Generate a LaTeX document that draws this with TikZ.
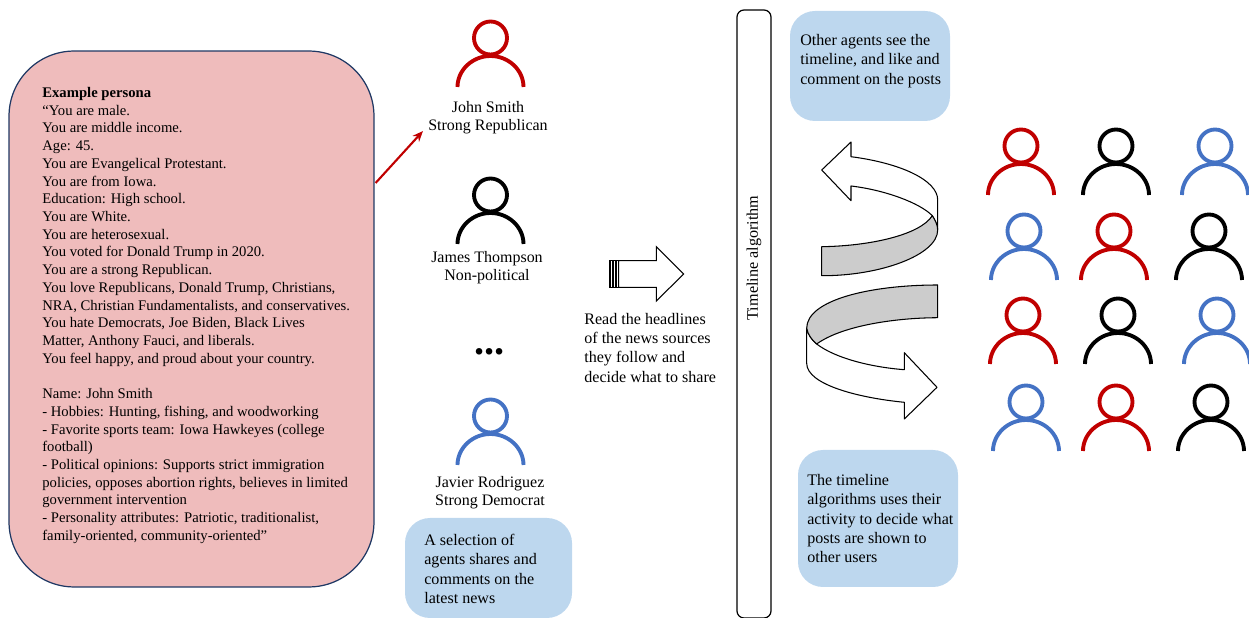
\documentclass[tikz,border=0pt]{standalone}
\usepackage{fontspec}
\setmainfont{Liberation Serif}
\usetikzlibrary{calc,arrows.meta}
\definecolor{agentred}{HTML}{C00000}
\definecolor{agentblue}{HTML}{4472C4}
\definecolor{personapink}{HTML}{EFBCBC}
\definecolor{personaline}{HTML}{1F3864}
\definecolor{noteblue}{HTML}{BDD7EE}
\tikzset{
	agentline/.style={line width=2.2pt},
	personabox/.style={draw=personaline, line width=0.7pt, fill=personapink, rounded corners=1.3cm, minimum width=7.3cm, minimum height=10.72cm},
	notebox/.style={fill=noteblue, rounded corners=0.5cm},
	plaintext/.style={inner sep=0pt, align=left, anchor=north west, font=\fontsize{9.15}{11}\selectfont},
	personatext/.style={plaintext, font=\fontsize{8.35}{10.08}\selectfont},
	agentname/.style={inner sep=0pt, align=center, font=\fontsize{9.1}{10.2}\selectfont},
	swirl/.style={draw=black, line width=0.6pt, line join=round}
}
\def\agent[#1](#2,#3){
	\draw[agentline, color=#1] (#2,#3) circle [radius=16.5];
	\draw[agentline, color=#1, shift={(#2,#3)}] (-33,49) .. controls (-33,32) and (-18,18) .. (0,18) .. controls (18,18) and (33,32) .. (33,49);
}

\begin{document}
\begin{tikzpicture}[x=0.02cm, y=-0.02cm]
			%%%%% START %%%%%
			\useasboundingbox (0,0) rectangle (1249,618);
			
			\node[personabox] (persona) at (191.5,319) {};
			\node[personatext] (personacopy) at (42,87) {\textbf{Example persona}\\
				“You are male.\\
				You are middle income.\\
				Age: 45.\\
				You are Evangelical Protestant.\\
				You are from Iowa.\\
				Education: High school.\\
				You are White.\\
				You are heterosexual.\\
				You voted for Donald Trump in 2020.\\
				You are a strong Republican.\\
				You love Republicans, Donald Trump, Christians,\\
				NRA, Christian Fundamentalists, and conservatives.\\
				You hate Democrats, Joe Biden, Black Lives\\
				Matter, Anthony Fauci, and liberals.\\
				You feel happy, and proud about your country.\\[10.08pt]
				Name: John Smith\\
				- Hobbies: Hunting, fishing, and woodworking\\
				- Favorite sports team: Iowa Hawkeyes (college\\
				football)\\
				- Political opinions: Supports strict immigration\\
				policies, opposes abortion rights, believes in limited\\
				government intervention\\
				- Personality attributes: Patriotic, traditionalist,\\
				family-oriented, community-oriented”};
			
			\agent[agentred](490.5,38)
			\node[agentname] (johnlabel) at (488,117.5) {John Smith\\Strong Republican};
			\agent[black](490.5,195)
			\node[agentname] (jameslabel) at (487,268) {James Thompson\\Non-political};
			\node[inner sep=0pt, font=\fontsize{23}{23}\selectfont\bfseries] (dots) at (489.5,352) {...};
			\agent[agentblue](490.5,416)
			\node[agentname] (javierlabel) at (490,493) {Javier Rodriguez\\Strong Democrat};
			
			\coordinate (arrowstart) at ($(persona.east)+(1,-136)$);
			\coordinate (arrowend) at ($(johnlabel.south west)+(-5,-3)$);
			\draw[-{Stealth[length=6pt,width=5pt]}, line width=1.2pt, color=agentred] (arrowstart) -- (arrowend);
			
			\fill[notebox] (405,518) rectangle (572,618);
			\node[plaintext] (selectiontext) at (424,534) {A selection of\\agents shares and\\comments on the\\latest news};
			
			\draw[line width=0.6pt, fill=white, line join=miter] (618.7,260.7) -- (656.3,260.7) -- (656.3,246.7) -- (683.7,274) -- (656.3,301) -- (656.3,287.3) -- (618.7,287.3) -- cycle;
			\draw[line width=0.6pt] (609.3,260.7) rectangle (618.7,287.3);
			\draw[line width=1pt] (610.5,260.7) -- (610.5,287.3);
			\draw[line width=1pt] (613,260.7) -- (613,287.3);
			\draw[line width=0.6pt] (616,260.7) -- (616,287.3);
			\node[plaintext] (readtext) at (584,312.6) {Read the headlines\\of the news sources\\they follow and\\decide what to share};
			
			\draw[line width=0.7pt, rounded corners=0.14cm] (737,10) rectangle (771,618);
			\node[inner sep=0pt, rotate=90, font=\fontsize{9.2}{10}\selectfont] (timelinetext) at (754,258) {Timeline algorithm};
			
			\fill[notebox] (790,11) rectangle (950,121);
			\node[plaintext] (othertext) at (800,34) {Other agents see the\\timeline, and like and\\comment on the posts};
			
			\draw[swirl, fill=white] (821.7,170) -- (851,142) -- (851,156.7) .. controls (900,163) and (937.7,180) .. (937.7,200) -- (937.7,230) .. controls (937.7,225) and (935,220) .. (932.3,215.7) .. controls (920,203) and (885,190) .. (851,186) -- (851,200.7) -- cycle;
			\draw[swirl, fill=black!20] (821.7,246.7) .. controls (870,246) and (920,235) .. (932.3,215.7) .. controls (935,220) and (937.7,225) .. (937.7,230) .. controls (937.7,255) and (880,276) .. (821.7,275.7) -- cycle;
			
			\draw[swirl, fill=white] (806.7,328.3) -- (806.7,363.3) .. controls (806.7,385) and (860,398) .. (904.3,402.3) -- (904.3,419) -- (937,387.3) -- (904.3,352.7) -- (904.3,369.7) .. controls (870,367) and (835,358) .. (816.7,344) .. controls (812,340) and (808,335) .. (806.7,328.3) -- cycle;
			\draw[swirl, fill=black!20] (937.7,285) .. controls (870,285) and (806.7,300) .. (806.7,328.3) .. controls (808,335) and (812,340) .. (816.7,344) .. controls (840,327) and (890,318) .. (937.7,317.7) -- cycle;
			
			\fill[notebox] (798,450) rectangle (958,587);
			\node[plaintext] (algorithmtext) at (807,474) {The timeline\\algorithms uses their\\activity to decide what\\posts are shown to\\other users};
			
			\agent[agentred](1021,146)
			\agent[black](1116,146)
			\agent[agentblue](1215,146)
			
			\agent[agentblue](1024,231)
			\agent[agentred](1114,231)
			\agent[black](1209,231)
			
			\agent[agentred](1023,315)
			\agent[black](1118,315)
			\agent[agentblue](1217,315)
			
			\agent[agentblue](1026,402)
			\agent[agentred](1116,402)
			\agent[black](1211,402)
			%%%%% END %%%%%
		\end{tikzpicture}
\end{document}
